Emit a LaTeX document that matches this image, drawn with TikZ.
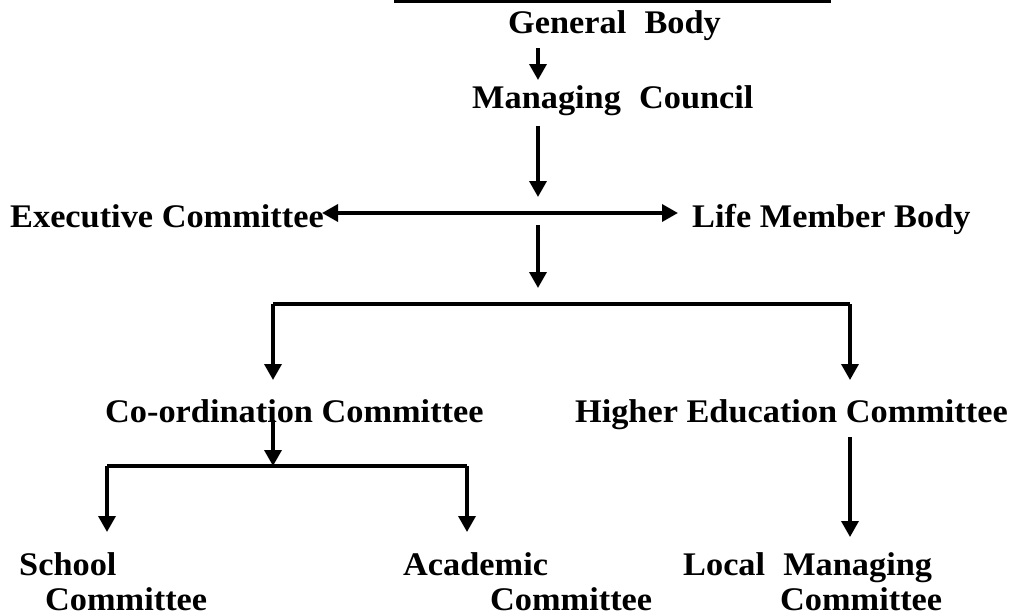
\documentclass[tikz,border=0pt]{standalone}
\usepackage{fontspec}
\setmainfont{Liberation Serif}[FakeStretch=1.04]
\usepackage{tikz}
\usetikzlibrary{arrows.meta,positioning}
\tikzset{
  rotulo/.style={anchor=base west,inner sep=0pt,font=\fontsize{33}{39}\selectfont\bfseries},
  seta/.style={-{Triangle[length=16pt,width=17pt]},line width=3.5pt},
  setadupla/.style={{Triangle[length=16pt,width=17pt]}-{Triangle[length=16pt,width=17pt]},line width=3.5pt},
  linha/.style={line width=3.5pt}
}
\newcommand{\espaco}{\hspace{0.55em}}
\begin{document}
\begin{tikzpicture}[x=1pt,y=-1pt]
\useasboundingbox (0,0) rectangle (1018,616);
% textos
\node[rotulo] (geral) at (508,33) {General\espaco Body};
\node[rotulo] (conselho) at (472,108) {Managing\espaco Council};
\node[rotulo] (executivo) at (10,227) {Executive Committee};
\node[rotulo] (vitalicio) at (692,227) {Life Member Body};
\node[rotulo] (coord) at (105,422) {Co-ordination Committee};
\node[rotulo,anchor=base east] (superior) at (1008,422) {Higher Education Committee};
\node[rotulo] (escola) at (19,575) {School};
\node[rotulo] (escolab) at (45,610) {Committee};
\node[rotulo] (academico) at (403,575) {Academic};
\node[rotulo] (academicob) at (490,610) {Committee};
\node[rotulo] (local) at (683,575) {Local\espaco Managing};
\node[rotulo] (localb) at (780,610) {Committee};
% pontos de ligacao
\coordinate (topoE) at (394,1);
\coordinate (topoD) at (831,1);
\coordinate (ramo1) at (538,213);
\coordinate (ramo2) at (538,304);
\coordinate (ramo2E) at (273,304);
\coordinate (ramo2D) at (850,304);
\coordinate (ramo3) at (273,466);
\coordinate (ramo3E) at (107,466);
\coordinate (ramo3D) at (467,466);
% ligacoes
\draw[linha] (topoE) -- (topoD);
\draw[seta] (538,48) -- (538,80);
\draw[seta] (538,126) -- (538,197);
\draw[setadupla] (322,213) -- (678,213);
\draw[seta] (538,225) -- (538,288);
\draw[linha] (ramo2E) -- (ramo2D);
\draw[seta] (ramo2E) -- (273,380);
\draw[seta] (ramo2D) -- (850,380);
\draw[seta] (273,420) -- (ramo3);
\draw[linha] (ramo3E) -- (ramo3D);
\draw[seta] (ramo3E) -- (107,532);
\draw[seta] (ramo3D) -- (467,532);
\draw[seta] (850,437) -- (850,537);
\end{tikzpicture}
\end{document}
